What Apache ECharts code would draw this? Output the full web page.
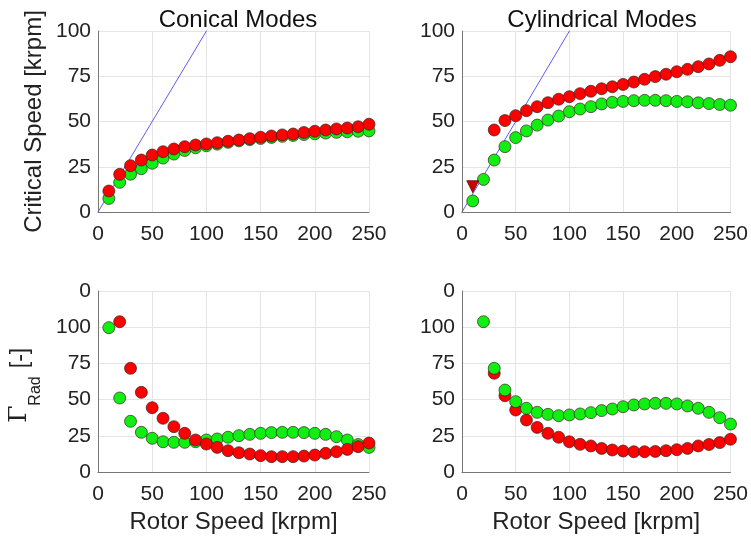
<!DOCTYPE html>
<html>
<head>
<meta charset="utf-8">
<script src="https://cdn.jsdelivr.net/npm/echarts@6/dist/echarts.min.js"></script>
<style>
  html, body { margin: 0; padding: 0; background: #fff; }
  #chart { width: 751px; height: 538px; }
</style>
</head>
<body>
<div id="chart"></div>
<script>
// rotor speed [krpm]
var speeds = [10, 20, 30, 40, 50, 60, 70, 80, 90, 100, 110, 120, 130, 140, 150, 160, 170, 180, 190, 200, 210, 220, 230, 240, 250];

// conical modes - critical speed
var conRedCrit = [11.6, 20.8, 25.6, 28.7, 31.5, 33.3, 34.8, 36.1, 37.0, 37.6, 38.3, 39.1, 39.8, 40.5, 41.3, 42.0, 42.6, 43.1, 43.9, 44.6, 45.3, 45.9, 46.4, 47.1, 48.5];
var conGreenCrit = [7.5, 16.4, 20.9, 23.9, 26.9, 29.8, 32.0, 34.0, 35.5, 36.6, 37.5, 38.5, 39.3, 40.0, 40.6, 41.2, 41.8, 42.3, 42.8, 43.2, 43.6, 44.0, 44.3, 44.6, 44.8];

// cylindrical modes - critical speed (red starts at 30, triangle at 10)
var cylRedCrit = [null, null, 45.3, 50.5, 53.2, 56.0, 58.2, 60.4, 62.3, 63.7, 65.4, 66.7, 68.1, 69.2, 70.5, 71.8, 73.3, 74.8, 76.1, 77.5, 78.8, 80.3, 81.8, 83.8, 85.8];
var cylGreenCrit = [6.1, 18.0, 28.7, 36.1, 41.1, 44.8, 48.0, 50.8, 53.0, 55.4, 56.9, 58.2, 59.7, 60.6, 61.1, 61.5, 61.7, 61.7, 61.5, 61.1, 60.9, 60.3, 59.9, 59.4, 59.0];
var cylTriangle = [[10, 14]];

// synchronous line
var syncLine = [[0, 0], [130, 130]];

// damping ratio Gamma_Rad
var conRedGam = [null, 103.8, 71.6, 55.0, 44.4, 37.1, 31.3, 26.7, 22.1, 19.3, 17.0, 14.7, 13.3, 12.4, 11.3, 10.6, 10.6, 10.6, 11.0, 11.7, 12.9, 14.0, 15.6, 17.5, 20.0];
var conGreenGam = [99.7, 51.1, 35.0, 27.4, 23.3, 20.9, 20.5, 20.5, 20.9, 22.1, 22.8, 24.0, 25.1, 26.0, 26.7, 27.2, 27.4, 27.4, 27.2, 26.7, 26.0, 24.4, 22.1, 19.0, 17.0];
var cylRedGam = [null, null, 68.2, 52.7, 42.8, 35.9, 30.8, 26.7, 24.0, 20.9, 19.1, 18.0, 16.3, 15.2, 14.5, 14.0, 14.0, 14.2, 14.7, 15.4, 16.3, 18.0, 19.0, 20.3, 22.6];
var cylGreenGam = [null, 103.8, 71.6, 56.6, 48.6, 44.0, 41.2, 39.8, 38.9, 39.4, 40.1, 41.0, 42.4, 43.5, 45.1, 46.3, 47.0, 47.4, 47.4, 47.0, 45.6, 44.0, 41.2, 37.5, 33.1];

function pairs(vals) {
  var out = [];
  for (var i = 0; i < vals.length; i++) {
    if (vals[i] !== null) out.push([speeds[i], vals[i]]);
  }
  return out;
}

var font = 'Liberation Sans, Arial, sans-serif';
var red = '#ff0000', green = '#11ee11';
var txt = '#222';

function dots(data, color, idx, z) {
  return {
    type: 'scatter', xAxisIndex: idx, yAxisIndex: idx,
    data: data, symbolSize: 12,
    itemStyle: { color: color, opacity: 1, borderColor: 'rgba(50,30,30,0.85)', borderWidth: 0.8 },
    z: z
  };
}

function xAx(idx, showName) {
  return {
    gridIndex: idx, type: 'value', min: 0, max: 250, interval: 50,
    name: showName ? 'Rotor Speed [krpm]' : '', nameLocation: 'middle', nameGap: 38,
    nameTextStyle: { fontFamily: font, fontSize: 24, color: txt },
    axisLine: { lineStyle: { color: '#777' } },
    axisTick: { show: false },
    axisLabel: { fontFamily: font, fontSize: 21, color: txt, margin: 12 },
    splitLine: { show: true, lineStyle: { color: '#e4e4e4' } }
  };
}

function yAx(idx, max, name) {
  return {
    gridIndex: idx, type: 'value', min: 0, max: max, interval: 25,
    name: name, nameLocation: 'middle', nameRotate: 90, nameGap: 52,
    nameTextStyle: { fontFamily: font, fontSize: 24, color: txt },
    axisLine: { show: true, lineStyle: { color: '#777' } },
    axisTick: { show: false },
    axisLabel: {
      fontFamily: font, fontSize: 21, color: txt, margin: 7,
      formatter: function (v) { return v === 125 ? '0' : String(v); }
    },
    splitLine: { show: true, lineStyle: { color: '#e4e4e4' } }
  };
}

function rotText(x, y, text, size, family) {
  return {
    type: 'text', x: x, y: y, rotation: Math.PI / 2,
    style: { text: text, fontFamily: family, fontSize: size, fill: txt,
      align: 'center', verticalAlign: 'middle' }
  };
}

var chart = echarts.init(document.getElementById('chart'));
chart.setOption({
  backgroundColor: '#fff',
  animation: false,
  title: [
    { text: 'Conical Modes', left: 233, top: 3, textAlign: 'center',
      textStyle: { fontFamily: font, fontSize: 24, fontWeight: 'normal', color: '#111' } },
    { text: 'Cylindrical Modes', left: 597, top: 3, textAlign: 'center',
      textStyle: { fontFamily: font, fontSize: 24, fontWeight: 'normal', color: '#111' } }
  ],
  grid: [
    { left: 98, top: 31, width: 271, height: 181 },
    { left: 462, top: 31, width: 270, height: 181 },
    { left: 98, top: 291, width: 271, height: 181 },
    { left: 462, top: 291, width: 270, height: 181 }
  ],
  xAxis: [xAx(0, false), xAx(1, false), xAx(2, true), xAx(3, true)],
  yAxis: [
    yAx(0, 100, 'Critical Speed [krpm]'),
    yAx(1, 100, ''),
    yAx(2, 125, ''),
    yAx(3, 125, '')
  ],
  // Gamma_Rad [-] label with subscript
  graphic: [
    rotText(19, 414, 'Γ', 25, 'DejaVu Serif, serif'),
    rotText(36, 391, 'Rad', 16, font),
    rotText(21, 358, '[-]', 23, font)
  ],
  series: [
    { type: 'line', xAxisIndex: 0, yAxisIndex: 0, data: syncLine, symbol: 'none',
      lineStyle: { color: '#5f5fe8', width: 1 }, clip: true, z: 2 },
    { type: 'line', xAxisIndex: 1, yAxisIndex: 1, data: syncLine, symbol: 'none',
      lineStyle: { color: '#5f5fe8', width: 1 }, clip: true, z: 2 },
    dots(pairs(conGreenCrit), green, 0, 3),
    dots(pairs(conRedCrit), red, 0, 4),
    dots(pairs(cylGreenCrit), green, 1, 3),
    dots(pairs(cylRedCrit), red, 1, 4),
    { type: 'scatter', xAxisIndex: 1, yAxisIndex: 1, data: cylTriangle,
      symbol: 'triangle', symbolRotate: 180, symbolSize: 12,
      itemStyle: { color: '#d00000', opacity: 1, borderColor: 'rgba(60,0,0,0.85)', borderWidth: 0.8 }, z: 4 },
    dots(pairs(conGreenGam), green, 2, 3),
    dots(pairs(conRedGam), red, 2, 4),
    dots(pairs(cylRedGam), red, 3, 4),
    dots(pairs(cylGreenGam), green, 3, 5)
  ]
});
</script>
</body>
</html>
